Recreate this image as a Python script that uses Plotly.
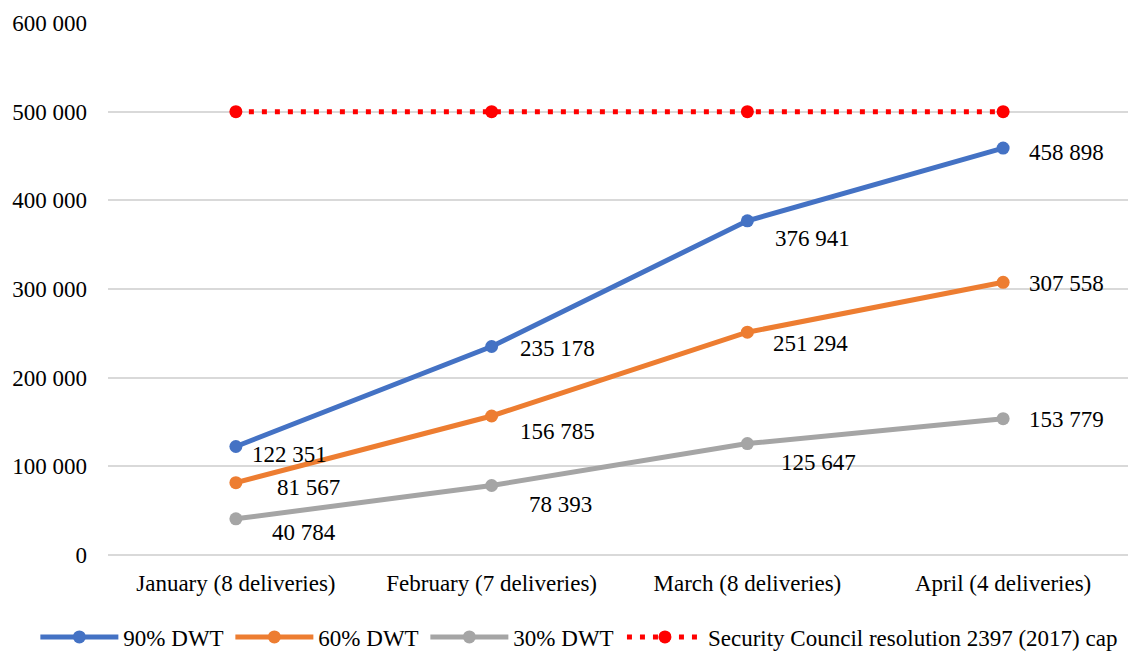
import plotly.graph_objects as go

months = ["January (8 deliveries)", "February (7 deliveries)", "March (8 deliveries)", "April (4 deliveries)"]
dwt_90 = [122351, 235178, 376941, 458898]
dwt_60 = [81567, 156785, 251294, 307558]
dwt_30 = [40784, 78393, 125647, 153779]
cap = [500000, 500000, 500000, 500000]
y_ticks = [0, 100000, 200000, 300000, 400000, 500000, 600000]

# label offsets (px), per point
offsets_90 = [(14, -8), (26, -2), (26, -18), (24, -4)]
offsets_60 = [(39, -5), (26, -16), (24, -11), (24, -1)]
offsets_30 = [(34, -14), (35, -19), (32, -19), (24, -1)]

font = "Liberation Serif, Times New Roman, serif"


def fmt(v):
    return f"{v:,}".replace(",", " ")


fig = go.Figure()
series = [
    ("90% DWT", dwt_90, "#4472C4", offsets_90),
    ("60% DWT", dwt_60, "#ED7D31", offsets_60),
    ("30% DWT", dwt_30, "#A5A5A5", offsets_30),
]
for name, vals, color, offs in series:
    fig.add_trace(go.Scatter(x=months, y=vals, name=name, mode="lines+markers",
                             line=dict(color=color, width=5), marker=dict(size=13, color=color)))
    for m, v, (dx, dy) in zip(months, vals, offs):
        fig.add_annotation(x=m, y=v, text=fmt(v), showarrow=False, xanchor="left", yanchor="middle",
                           xshift=dx, yshift=dy, font=dict(family=font, size=23, color="#000000"))

fig.add_trace(go.Scatter(x=months, y=cap, name="Security Council resolution 2397 (2017) cap",
                         mode="lines+markers", line=dict(color="#FF0000", width=5, dash="5px,8px"),
                         marker=dict(size=13, color="#FF0000"), legend="legend2"))

# page body has an 8px margin, so the figure is a bit smaller and shifted
fig.update_layout(
    width=1128, height=644,
    margin=dict(l=100, r=5, t=15, b=97, autoexpand=False),
    plot_bgcolor="white", paper_bgcolor="white",
    font=dict(family=font, size=23, color="#000000"),
    legend=dict(orientation="h", x=-0.071, xanchor="left", y=-0.154, yanchor="middle",
                font=dict(size=23), itemwidth=78, entrywidth=102, tracegroupgap=0),
    legend2=dict(orientation="h", x=0.5024, xanchor="left", y=-0.154, yanchor="middle",
                 font=dict(size=23), itemwidth=76),
    showlegend=True,
)
fig.update_xaxes(showgrid=False, showline=False, zeroline=False, range=[-0.5, 3.5],
                 ticks="", ticklabelstandoff=12, automargin=False)
fig.update_yaxes(range=[0, 600000], tickvals=y_ticks, ticktext=[fmt(t) for t in y_ticks],
                 gridcolor="#D9D9D9", gridwidth=2, zeroline=True, zerolinecolor="#D9D9D9", zerolinewidth=2,
                 showline=False, ticks="", ticklabelstandoff=20, automargin=False)

fig.write_html("out.html")
